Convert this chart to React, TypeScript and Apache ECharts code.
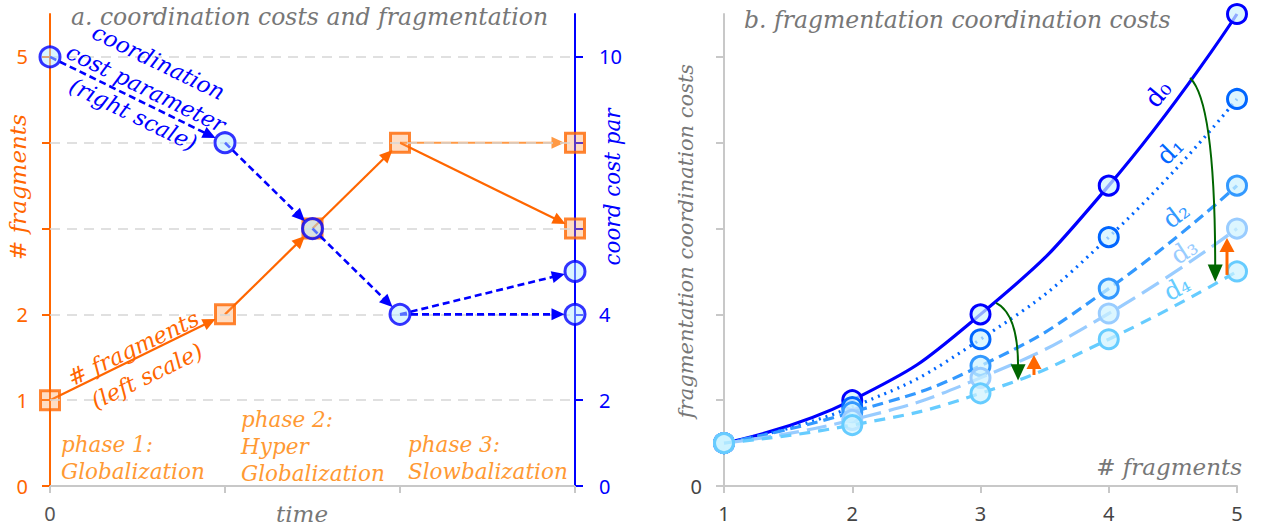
import React, { useEffect, useRef } from "react";
import * as echarts from "echarts";

// ---------- Panel a data ----------
const timeTicks = [0, 2, 4, 6];
const fragTime = [0, 2, 3, 4, 6, 6];
const fragValues = [1, 2, 3, 4, 4, 3];
const costTime = [0, 2, 3, 4, 6, 6];
const costValues = [10, 8, 6, 4, 4, 5];
// segments as index pairs (from -> to)
const fragSegments = [[0, 1], [1, 2], [2, 3], [3, 4], [3, 5]];
const costSegments = [[0, 1], [1, 2], [2, 3], [3, 4], [3, 5]];
const leftTickValues = [0, 1, 2, 3, 4, 5];
const leftLabelValues = [0, 1, 2, 5];
const rightTickValues = [0, 2, 4, 6, 8, 10];
const rightLabelValues = [0, 2, 4, 10];
const gridLevels = [1, 2, 3, 4, 5];

// ---------- Panel b data ----------
const fragCount = [1, 2, 3, 4, 5];
const d0 = [0.5, 1.0, 2.0, 3.5, 5.5];
const d1 = [0.5, 0.92, 1.71, 2.9, 4.51];
const d2 = [0.5, 0.86, 1.4, 2.3, 3.5];
const d3 = [0.5, 0.77, 1.26, 2.01, 3.0];
const d4 = [0.5, 0.71, 1.08, 1.71, 2.5];
const bTickValues = [0, 1, 2, 3, 4, 5];
const bLabelValues = [0];

const SERIF = "'DejaVu Serif'";
const SANS = "'Noto Sans'";
const ORANGE = "#ff6600";
const BLUE = "#0000ff";

function makeArrowRender(colors: string[], width: number, dash: number[] | null) {
  return (params: any, api: any) => {
    const p1 = api.coord([api.value(0), api.value(1)]);
    const p2 = api.coord([api.value(2), api.value(3)]);
    const dx = p2[0] - p1[0];
    const dy = p2[1] - p1[1];
    const len = Math.hypot(dx, dy) || 1;
    const ux = dx / len;
    const uy = dy / len;
    const r = 10.5;
    const L = 13;
    const W = 12;
    const tip = [p2[0] - ux * r, p2[1] - uy * r];
    const base = [tip[0] - ux * L, tip[1] - uy * L];
    const px = -uy;
    const py = ux;
    const c = colors[params.dataIndex % colors.length];
    return {
      type: "group",
      children: [
        {
          type: "line",
          shape: { x1: p1[0], y1: p1[1], x2: base[0] + ux * 3, y2: base[1] + uy * 3 },
          style: { stroke: c, lineWidth: width, lineDash: dash || undefined, fill: null },
        },
        {
          type: "polygon",
          shape: {
            points: [
              tip,
              [base[0] + (px * W) / 2, base[1] + (py * W) / 2],
              [base[0] - (px * W) / 2, base[1] - (py * W) / 2],
            ],
          },
          style: { fill: c },
        },
      ],
    };
  };
}

function curveSeries(name: string, values: number[], color: string, type: any, z: number) {
  return {
    name,
    type: "line",
    xAxisIndex: 1,
    yAxisIndex: 2,
    data: fragCount.map((x, i) => [x, values[i]]),
    smooth: true,
    symbol: "circle",
    symbolSize: 19,
    showSymbol: true,
    z,
    itemStyle: { color: "rgba(205,242,255,0.7)", borderColor: color, borderWidth: 3 },
    lineStyle: { color, width: 3.2, type },
  };
}

export default function App() {
  const ref = useRef<HTMLDivElement>(null);

  useEffect(() => {
    if (!ref.current) return;
    const chart = echarts.init(ref.current, undefined, { renderer: "svg" });

    const fragSegData = fragSegments.map(([a, b]) => [fragTime[a], fragValues[a], fragTime[b], fragValues[b]]);
    const costSegData = costSegments.map(([a, b]) => [costTime[a], costValues[a], costTime[b], costValues[b]]);

    const tickLabelStyle = (color: string) => ({ color, fontSize: 20, fontFamily: SANS });

    const option: any = {
      animation: false,
      grid: [
        { left: 50, right: 692, top: 14, bottom: 43, outerBoundsMode: "none", containLabel: false },
        { left: 724, right: 30, top: 14, bottom: 43, outerBoundsMode: "none", containLabel: false },
      ],
      xAxis: [
        {
          gridIndex: 0,
          type: "value",
          min: 0,
          max: 6,
          interval: 2,
          axisLine: { show: true, onZero: false, lineStyle: { color: "#c8c8c8", width: 2 } },
          axisTick: { show: true, length: 7, customValues: timeTicks, lineStyle: { color: "#c8c8c8", width: 2 } },
          axisLabel: {
            ...tickLabelStyle("#555"),
            margin: 17,
            formatter: (v: number) => (v === 0 ? "0" : ""),
          },
          splitLine: { show: false },
        },
        {
          gridIndex: 1,
          type: "value",
          min: 1,
          max: 5,
          interval: 1,
          axisLine: { show: true, onZero: false, lineStyle: { color: "#c8c8c8", width: 2 } },
          axisTick: { show: true, length: 7, lineStyle: { color: "#c8c8c8", width: 2 } },
          axisLabel: { ...tickLabelStyle("#444"), margin: 17 },
          splitLine: { show: false },
        },
      ],
      yAxis: [
        {
          gridIndex: 0,
          type: "value",
          position: "left",
          min: 0,
          max: 5.5,
          interval: 1,
          axisLine: { show: true, onZero: false, lineStyle: { color: ORANGE, width: 2 } },
          axisTick: { show: true, length: 8, customValues: leftTickValues, lineStyle: { color: ORANGE, width: 2 } },
          axisLabel: {
            ...tickLabelStyle(ORANGE),
            margin: 22,
            customValues: leftLabelValues,
            formatter: (v: number) => (leftLabelValues.includes(v) ? String(v) : ""),
          },
          splitLine: { show: false },
        },
        {
          gridIndex: 0,
          type: "value",
          position: "right",
          min: 0,
          max: 11,
          interval: 2,
          axisLine: { show: true, onZero: false, lineStyle: { color: BLUE, width: 2 } },
          axisTick: { show: true, length: 8, customValues: rightTickValues, lineStyle: { color: BLUE, width: 2 } },
          axisLabel: {
            ...tickLabelStyle(BLUE),
            margin: 24,
            customValues: rightLabelValues,
            formatter: (v: number) => (rightLabelValues.includes(v) ? String(v) : ""),
          },
          splitLine: { show: false },
        },
        {
          gridIndex: 1,
          type: "value",
          min: 0,
          max: 5.5,
          interval: 1,
          axisLine: { show: true, onZero: false, lineStyle: { color: "#c8c8c8", width: 2 } },
          axisTick: { show: true, length: 8, customValues: bTickValues, lineStyle: { color: "#c8c8c8", width: 2 } },
          axisLabel: {
            ...tickLabelStyle("#444"),
            margin: 22,
            customValues: bLabelValues,
            formatter: (v: number) => (bLabelValues.includes(v) ? String(v) : ""),
          },
          splitLine: { show: false },
        },
      ],
      series: [
        {
          name: "grid",
          type: "line",
          xAxisIndex: 0,
          yAxisIndex: 0,
          data: [],
          z: 1,
          silent: true,
          markLine: {
            silent: true,
            symbol: ["none", "none"],
            label: { show: false },
            lineStyle: { color: "#d6d6d6", type: [10, 7], width: 1.6 },
            data: gridLevels.map((v) => ({ yAxis: v })),
          },
        },
        {
          name: "fragSegments",
          type: "custom",
          xAxisIndex: 0,
          yAxisIndex: 0,
          z: 3,
          renderItem: makeArrowRender([ORANGE, ORANGE, ORANGE, "#ff9944", ORANGE], 2.2, null),
          encode: { x: [0, 2], y: [1, 3] },
          data: fragSegData,
        },
        {
          name: "# fragments",
          type: "scatter",
          xAxisIndex: 0,
          yAxisIndex: 0,
          z: 4,
          symbol: "rect",
          symbolSize: 19,
          itemStyle: { color: "rgba(255,160,90,0.45)", borderColor: ORANGE, borderWidth: 3 },
          data: fragTime.map((t, i) => [t, fragValues[i]]),
        },
        {
          name: "costSegments",
          type: "custom",
          xAxisIndex: 0,
          yAxisIndex: 1,
          z: 5,
          renderItem: makeArrowRender([BLUE], 2.6, [7, 4]),
          encode: { x: [0, 2], y: [1, 3] },
          data: costSegData,
        },
        {
          name: "coordination cost parameter",
          type: "scatter",
          xAxisIndex: 0,
          yAxisIndex: 1,
          z: 6,
          symbol: "circle",
          symbolSize: 20,
          itemStyle: { color: "rgba(180,235,255,0.6)", borderColor: BLUE, borderWidth: 3 },
          data: costTime.map((t, i) => [t, costValues[i]]),
        },
        curveSeries("d0", d0, "#0000ff", "solid", 10),
        curveSeries("d1", d1, "#0066ff", [2, 5], 11),
        curveSeries("d2", d2, "#3399ff", [11, 6], 12),
        curveSeries("d3", d3, "#99ccff", [20, 8], 13),
        curveSeries("d4", d4, "#66ccff", [11, 8], 14),
      ],
    };

    chart.setOption(option);

    const toPx = (p: number[]) => chart.convertToPixel({ xAxisIndex: 1, yAxisIndex: 2 }, p) as number[];

    const txt = (text: string, x: number, y: number, opts: any = {}) => ({
      type: "text",
      x,
      y,
      rotation: opts.rotation || 0,
      z: 50,
      silent: true,
      style: {
        text,
        fill: opts.fill || "#777",
        font: opts.font || `italic 20px ${SERIF}`,
        textAlign: opts.align || "left",
        textVerticalAlign: opts.valign || "middle",
        lineHeight: opts.lineHeight || 26,
      },
    });

    const deg = Math.PI / 180;
    const graphics: any[] = [];
    // titles
    graphics.push(txt("a. coordination costs and fragmentation", 71, 17, { font: `italic 23.5px ${SERIF}` }));
    graphics.push(txt("b. fragmentation coordination costs", 744, 20, { font: `italic 23.5px ${SERIF}` }));
    // axis names
    graphics.push(txt("time", 302, 514, { fill: "#777", align: "center", font: `italic 23px ${SERIF}` }));
    graphics.push(txt("# fragments", 18, 187, { fill: ORANGE, align: "center", rotation: 90 * deg, font: `italic 23px ${SERIF}` }));
    graphics.push(txt("coord cost par", 612, 187, { fill: BLUE, align: "center", rotation: 90 * deg, font: `italic 21.5px ${SERIF}` }));
    graphics.push(txt("fragmentation coordination costs", 686, 241, { fill: "#777", align: "center", rotation: 90 * deg, font: `italic 21px ${SERIF}` }));
    graphics.push(txt("# fragments", 1242, 467, { fill: "#777", align: "right", font: `italic 23px ${SERIF}` }));
    // annotations panel a
    graphics.push(
      txt("coordination\ncost parameter\n(right scale)", 146, 88, {
        fill: BLUE, align: "center", rotation: -26 * deg, lineHeight: 29, font: `italic 22.5px ${SERIF}`,
      })
    );
    graphics.push(
      txt("# fragments\n(left scale)", 140, 362, {
        fill: ORANGE, align: "center", rotation: 26 * deg, lineHeight: 31, font: `italic 22.5px ${SERIF}`,
      })
    );
    const phaseColor = "#ff9933";
    graphics.push(txt("phase 1:\nGlobalization", 61, 458, { fill: phaseColor, lineHeight: 27, font: `italic 21.5px ${SERIF}` }));
    graphics.push(txt("phase 2:\nHyper\nGlobalization", 241, 446, { fill: phaseColor, lineHeight: 27, font: `italic 21.5px ${SERIF}` }));
    graphics.push(txt("phase 3:\nSlowbalization", 408, 458, { fill: phaseColor, lineHeight: 27, font: `italic 21.5px ${SERIF}` }));

    // d labels panel b
    const dLabels: [string, number, number, number, string][] = [
      ["d₀", 4.384, 4.569, 50, "#0000ff"],
      ["d₁", 4.478, 3.904, 45, "#0066ff"],
      ["d₂", 4.524, 3.158, 37, "#3399ff"],
      ["d₃", 4.587, 2.739, 33, "#99ccff"],
      ["d₄", 4.532, 2.308, 28, "#66ccff"],
    ];
    dLabels.forEach(([t, x, y, r, c]) => {
      const p = toPx([x, y]);
      graphics.push(txt(t, p[0], p[1], { fill: c, align: "center", rotation: r * deg, font: `25px ${SERIF}` }));
    });

    // curved green arrows (data coordinates of panel b)
    const GREEN = "#006600";
    const greenArrows = [
      { s: [4.634, 4.755], c1: [4.77, 4.56], c2: [4.83, 3.8], e: [4.83, 2.58], tip: [4.83, 2.38] },
      { s: [3.121, 2.133], c1: [3.23, 2.05], c2: [3.293, 1.82], e: [3.293, 1.42], tip: [3.293, 1.23] },
    ];
    greenArrows.forEach((a) => {
      const s = toPx(a.s), c1 = toPx(a.c1), c2 = toPx(a.c2), e = toPx(a.e), tip = toPx(a.tip);
      graphics.push({
        type: "bezierCurve",
        z: 40,
        silent: true,
        shape: { x1: s[0], y1: s[1], cpx1: c1[0], cpy1: c1[1], cpx2: c2[0], cpy2: c2[1], x2: e[0], y2: e[1] + 2 },
        style: { stroke: GREEN, lineWidth: 2, fill: null },
      });
      graphics.push({
        type: "polygon",
        z: 40,
        silent: true,
        shape: { points: [[tip[0], tip[1]], [tip[0] - 7.5, e[1]], [tip[0] + 7.5, e[1]]] },
        style: { fill: GREEN },
      });
    });

    // orange up arrows
    const orangeArrows = [
      { tail: [3.417, 1.294], tip: [3.417, 1.527] },
      { tail: [4.922, 2.46], tip: [4.922, 2.89] },
    ];
    orangeArrows.forEach((a) => {
      const t = toPx(a.tail), h = toPx(a.tip);
      const baseY = h[1] + 14;
      graphics.push({
        type: "line",
        z: 40,
        silent: true,
        shape: { x1: t[0], y1: t[1], x2: h[0], y2: baseY - 2 },
        style: { stroke: ORANGE, lineWidth: 3 },
      });
      graphics.push({
        type: "polygon",
        z: 40,
        silent: true,
        shape: { points: [[h[0], h[1]], [h[0] - 7.5, baseY], [h[0] + 7.5, baseY]] },
        style: { fill: ORANGE },
      });
    });

    chart.setOption({ graphic: graphics });

    return () => chart.dispose();
  }, []);

  return (
    <div
      ref={ref}
      style={{ position: "absolute", left: 0, top: 0, width: 1267, height: 529, background: "#fff" }}
    />
  );
}
